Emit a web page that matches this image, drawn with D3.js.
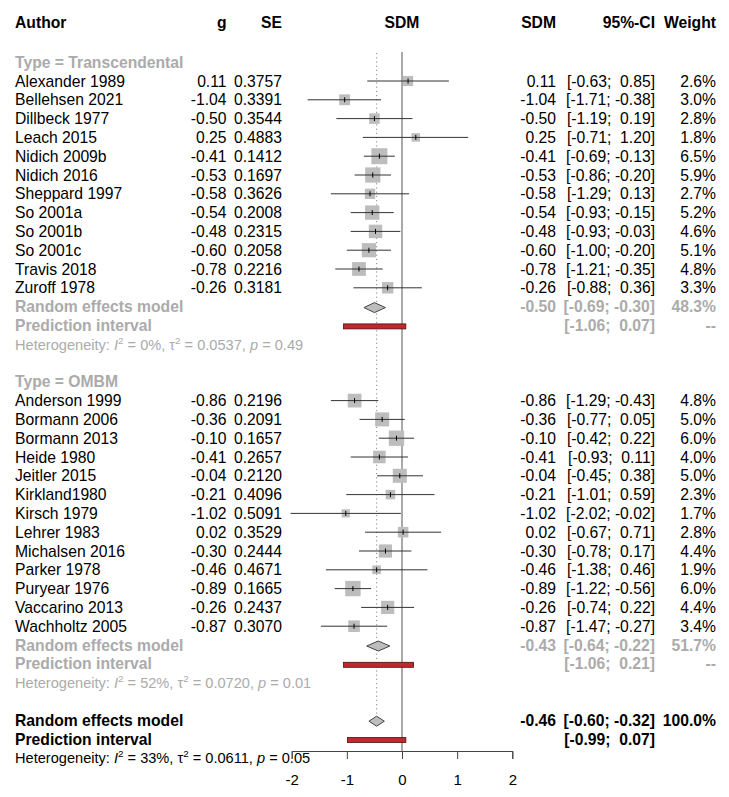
<!DOCTYPE html>
<html>
<head>
<meta charset="utf-8">
<script src="https://cdn.jsdelivr.net/npm/d3@7"></script>
<style>
  body { margin: 0; background: #fff; }
  text { font-family: "Liberation Sans", Arial, Helvetica, sans-serif; white-space: pre; }
</style>
</head>
<body>
<div id="chart"></div>
<script>
// study data
var studies1 = ["Alexander 1989", "Bellehsen 2021", "Dillbeck 1977", "Leach 2015", "Nidich 2009b", "Nidich 2016",
  "Sheppard 1997", "So 2001a", "So 2001b", "So 2001c", "Travis 2018", "Zuroff 1978"];
var g1 = [0.11, -1.04, -0.50, 0.25, -0.41, -0.53, -0.58, -0.54, -0.48, -0.60, -0.78, -0.26];
var se1 = [0.3757, 0.3391, 0.3544, 0.4883, 0.1412, 0.1697, 0.3626, 0.2008, 0.2315, 0.2058, 0.2216, 0.3181];
var lower1 = [-0.63, -1.71, -1.19, -0.71, -0.69, -0.86, -1.29, -0.93, -0.93, -1.00, -1.21, -0.88];
var upper1 = [0.85, -0.38, 0.19, 1.20, -0.13, -0.20, 0.13, -0.15, -0.03, -0.20, -0.35, 0.36];
var weight1 = [2.6, 3.0, 2.8, 1.8, 6.5, 5.9, 2.7, 5.2, 4.6, 5.1, 4.8, 3.3];

var studies2 = ["Anderson 1999", "Bormann 2006", "Bormann 2013", "Heide 1980", "Jeitler 2015", "Kirkland1980",
  "Kirsch 1979", "Lehrer 1983", "Michalsen 2016", "Parker 1978", "Puryear 1976", "Vaccarino 2013", "Wachholtz 2005"];
var g2 = [-0.86, -0.36, -0.10, -0.41, -0.04, -0.21, -1.02, 0.02, -0.30, -0.46, -0.89, -0.26, -0.87];
var se2 = [0.2196, 0.2091, 0.1657, 0.2657, 0.2120, 0.4096, 0.5091, 0.3529, 0.2444, 0.4671, 0.1665, 0.2437, 0.3070];
var lower2 = [-1.29, -0.77, -0.42, -0.93, -0.45, -1.01, -2.02, -0.67, -0.78, -1.38, -1.22, -0.74, -1.47];
var upper2 = [-0.43, 0.05, 0.22, 0.11, 0.38, 0.59, -0.02, 0.71, 0.17, 0.46, -0.56, 0.22, -0.27];
var weight2 = [4.8, 5.0, 6.0, 4.0, 5.0, 2.3, 1.7, 2.8, 4.4, 1.9, 6.0, 4.4, 3.4];

// pooled results: subgroup 1, subgroup 2, overall
var groupLabels = ["Type = Transcendental", "Type = OMBM"];
var pooledEst = [-0.50, -0.43, -0.46];
var pooledLower = [-0.69, -0.64, -0.60];
var pooledUpper = [-0.30, -0.22, -0.32];
var pooledWeight = [48.3, 51.7, 100.0];
var predLower = [-1.06, -1.06, -0.99];
var predUpper = [0.07, 0.21, 0.07];
var hetI2 = ["0%", "52%", "33%"];
var hetTau2 = ["0.0537", "0.0720", "0.0611"];
var hetP = ["0.49", "0.01", "0.05"];

var xTicks = [-2, -1, 0, 1, 2];

var width = 729, height = 797;
var grey = "#ababab";
var fs = 15.7;

var svg = d3.select("#chart").append("svg")
  .attr("width", width)
  .attr("height", height);

var x = d3.scaleLinear().domain([-2, 2]).range([291.7, 512.3]);
// row index -> text baseline
var y = d3.scaleLinear().domain([0, 37]).range([67.7, 763.3]);
var size = d3.scaleSqrt().domain([0, 6.5]).range([0, 16]);

function f2(v) { return v.toFixed(2); }

function txt(xp, yp, s, opts) {
  opts = opts || {};
  return svg.append("text")
    .attr("x", xp)
    .attr("y", yp)
    .attr("text-anchor", opts.anchor || "start")
    .attr("font-size", opts.size || fs)
    .attr("font-weight", opts.bold ? "bold" : "normal")
    .attr("fill", opts.color || "#000")
    .text(s);
}

// column headers
txt(15, 28.3, "Author", {bold: true});
txt(226.5, 28.3, "g", {bold: true, anchor: "end"});
txt(282, 28.3, "SE", {bold: true, anchor: "end"});
txt(x(0), 28.3, "SDM", {bold: true, anchor: "middle"});
txt(556, 28.3, "SDM", {bold: true, anchor: "end"});
txt(655, 28.3, "95%-CI", {bold: true, anchor: "end"});
txt(716, 28.3, "Weight", {bold: true, anchor: "end"});

// reference lines
svg.append("line")
  .attr("x1", x(0)).attr("x2", x(0))
  .attr("y1", 52).attr("y2", 751)
  .attr("stroke", "#555").attr("stroke-width", 1);
svg.append("line")
  .attr("x1", x(pooledEst[2])).attr("x2", x(pooledEst[2]))
  .attr("y1", 53).attr("y2", y(35) - 10.5)
  .attr("stroke", "#8a8a8a").attr("stroke-width", 1)
  .attr("stroke-dasharray", "1.2,3");

// whole interval right-aligned, positive upper bound padded with a space
function ciText(row, lo, hi, opts) {
  var s = "[" + f2(lo) + "; " + (hi >= 0 ? " " : "") + f2(hi) + "]";
  txt(655, y(row), s, Object.assign({anchor: "end"}, opts));
}

function studyRows(startRow, names, g, se, lo, hi, w) {
  names.forEach(function(name, i) {
    var row = startRow + i;
    var b = y(row);
    var c = b - 5.5;
    txt(15, b, name);
    txt(226.5, b, f2(g[i]), {anchor: "end"});
    txt(282, b, se[i].toFixed(4), {anchor: "end"});
    txt(556, b, f2(g[i]), {anchor: "end"});
    ciText(row, lo[i], hi[i]);
    txt(716, b, w[i].toFixed(1) + "%", {anchor: "end"});

    var s = size(w[i]);
    svg.append("rect")
      .attr("x", x(g[i]) - s / 2)
      .attr("y", c - s / 2)
      .attr("width", s)
      .attr("height", s)
      .attr("fill", "#bdbdbd");
    svg.append("line")
      .attr("x1", x(lo[i])).attr("x2", x(hi[i]))
      .attr("y1", c).attr("y2", c)
      .attr("stroke", "#333").attr("stroke-width", 1);
    svg.append("line")
      .attr("x1", x(g[i])).attr("x2", x(g[i]))
      .attr("y1", c - 2.5).attr("y2", c + 2.5)
      .attr("stroke", "#000").attr("stroke-width", 1);
  });
}

function pooledRows(row, k, color, isOverall) {
  var b = y(row);
  var c = b - 4.5;
  var bold = {bold: true, color: color};
  txt(15, b, "Random effects model", bold);
  txt(556, b, f2(pooledEst[k]), Object.assign({anchor: "end"}, bold));
  ciText(row, pooledLower[k], pooledUpper[k], bold);
  txt(716, b, pooledWeight[k].toFixed(1) + "%", Object.assign({anchor: "end"}, bold));

  // diamond
  var hh = 5;
  var pts = [[x(pooledLower[k]), c], [x(pooledEst[k]), c - hh], [x(pooledUpper[k]), c], [x(pooledEst[k]), c + hh]];
  svg.append("path")
    .attr("d", d3.line()(pts) + "Z")
    .attr("fill", "#bdbdbd")
    .attr("stroke", "#444")
    .attr("stroke-width", 1);

  // prediction interval
  var b2 = y(row + 1);
  var c2 = b2 - 4.5;
  txt(15, b2, "Prediction interval", bold);
  ciText(row + 1, predLower[k], predUpper[k], bold);
  if (!isOverall) txt(716, b2, "--", Object.assign({anchor: "end"}, bold));
  svg.append("rect")
    .attr("x", x(predLower[k]))
    .attr("y", c2 - 2.5)
    .attr("width", x(predUpper[k]) - x(predLower[k]))
    .attr("height", 5)
    .attr("fill", "#c1272d")
    .attr("stroke", "#4a1010")
    .attr("stroke-width", 0.8);

  // heterogeneity line
  var t = svg.append("text")
    .attr("x", 15)
    .attr("y", y(row + 2))
    .attr("font-size", 14.6)
    .attr("fill", isOverall ? "#000" : color);
  t.append("tspan").text("Heterogeneity: ");
  t.append("tspan").attr("font-style", "italic").text("I");
  t.append("tspan").attr("dy", -6).attr("font-size", 9.8).text("2");
  t.append("tspan").attr("dy", 6).text(" = " + hetI2[k] + ", \u03c4");
  t.append("tspan").attr("dy", -6).attr("font-size", 9.8).text("2");
  t.append("tspan").attr("dy", 6).text(" = " + hetTau2[k] + ", ");
  t.append("tspan").attr("font-style", "italic").text("p");
  t.append("tspan").text(" = " + hetP[k]);
}

// subgroup 1
txt(15, y(0), groupLabels[0], {bold: true, color: grey});
studyRows(1, studies1, g1, se1, lower1, upper1, weight1);
pooledRows(13, 0, grey, false);

// subgroup 2
txt(15, y(17), groupLabels[1], {bold: true, color: grey});
studyRows(18, studies2, g2, se2, lower2, upper2, weight2);
pooledRows(31, 1, grey, false);

// overall
pooledRows(35, 2, "#000", true);

// x axis
var axisY = 751;
var axis = svg.append("g")
  .attr("transform", "translate(0," + axisY + ")")
  .call(d3.axisBottom(x).tickValues(xTicks).tickSize(8).tickSizeOuter(8)
    .tickFormat(function(d) { return String(d); }));
axis.select(".domain").attr("stroke", "#444");
axis.selectAll(".tick line").attr("stroke", "#444");
axis.selectAll(".tick text")
  .attr("font-size", 15)
  .attr("font-family", "Liberation Sans, Arial, sans-serif")
  .attr("fill", "#000")
  .attr("y", 34)
  .attr("dy", 0);
</script>
</body>
</html>
